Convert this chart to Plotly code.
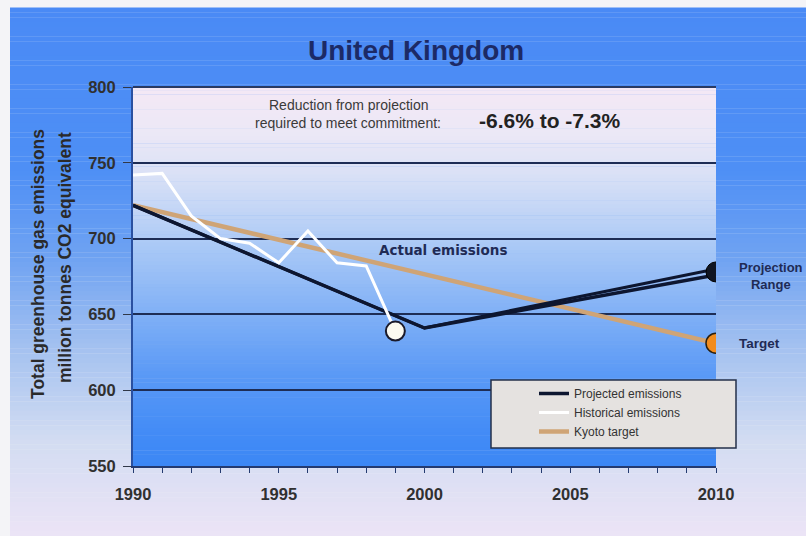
import plotly.graph_objects as go

# ---- data ----
hist_years = [1990, 1991, 1992, 1993, 1994, 1995, 1996, 1997, 1998, 1999]
hist_values = [742, 743, 715, 700, 697, 684, 705, 684, 682, 639]

proj_years = [1990, 2000, 2010]
proj_low = [722, 641, 676]
proj_high = [722, 641, 680]

kyoto_years = [1990, 2010]
kyoto_values = [722, 631]

x_ticks = [1990, 1995, 2000, 2005, 2010]
y_ticks = [550, 600, 650, 700, 750, 800]

# ---- geometry helpers (plot area in px) ----
W, H = 806, 536
L, R, T, B = 133, 716, 87, 466


def px_x(px):
    return (px - L) / (R - L)


def px_y(py):
    return (B - py) / (B - T)


def lerp_color(stops, v):
    stops = sorted(stops, key=lambda s: s[0])
    if v <= stops[0][0]:
        c = stops[0][1]
    elif v >= stops[-1][0]:
        c = stops[-1][1]
    else:
        for (a, ca), (b, cb) in zip(stops[:-1], stops[1:]):
            if a <= v <= b:
                t = (v - a) / (b - a)
                c = tuple(ca[i] + (cb[i] - ca[i]) * t for i in range(3))
                break
    return "rgb(%d,%d,%d)" % tuple(int(round(x)) for x in c)


shapes = []

# slide background gradient (by pixel y)
slide_stops = [
    (8, (74, 138, 245)), (170, (78, 143, 245)), (260, (112, 163, 242)),
    (350, (165, 194, 240)), (440, (210, 220, 242)), (536, (236, 228, 246)),
]
n = 110
top_px, bot_px = 8, 536
for i in range(n):
    y0 = top_px + (bot_px - top_px) * i / n
    y1 = top_px + (bot_px - top_px) * (i + 1) / n
    shapes.append(dict(type="rect", xref="paper", yref="paper", layer="below",
                       x0=px_x(10), x1=px_x(806), y0=px_y(y1), y1=px_y(y0) + 0.001,
                       fillcolor=lerp_color(slide_stops, (y0 + y1) / 2), line_width=0))

# plot-area gradient (by value)
plot_stops = [
    (800, (244, 232, 245)), (770, (236, 232, 246)), (745, (220, 226, 246)),
    (720, (196, 214, 246)), (690, (165, 198, 246)), (650, (128, 176, 246)),
    (610, (90, 153, 246)), (570, (66, 139, 246)), (550, (60, 135, 245)),
]
m = 100
for i in range(m):
    v0 = 550 + 250 * i / m
    v1 = 550 + 250 * (i + 1) / m
    shapes.append(dict(type="rect", xref="x domain", yref="y", layer="below",
                       x0=0, x1=1, y0=v0, y1=v1 + 0.3,
                       fillcolor=lerp_color(plot_stops, (v0 + v1) / 2), line_width=0))

# top border of plot area
shapes.append(dict(type="line", xref="x domain", yref="y domain", layer="below",
                   x0=0, x1=1, y0=1, y1=1, line=dict(color="#2a3a62", width=2)))

# legend box
shapes.append(dict(type="rect", xref="paper", yref="paper", layer="above",
                   x0=px_x(491), x1=px_x(736), y0=px_y(448), y1=px_y(380),
                   fillcolor="#e5e2e0", line=dict(color="#25304a", width=1.5)))

fig = go.Figure()

navy = "#0d1630"
tan = "#cfa476"
orange = "#f28c1e"

fig.add_trace(go.Scatter(x=kyoto_years, y=kyoto_values, mode="lines",
                         line=dict(color=tan, width=4.5), name="Kyoto target",
                         legendrank=3))
fig.add_trace(go.Scatter(x=proj_years, y=proj_high, mode="lines",
                         line=dict(color=navy, width=3), showlegend=False))
fig.add_trace(go.Scatter(x=proj_years, y=proj_low, mode="lines",
                         line=dict(color=navy, width=3.5), name="Projected emissions",
                         legendrank=1))
fig.add_trace(go.Scatter(x=hist_years, y=hist_values, mode="lines",
                         line=dict(color="white", width=3), name="Historical emissions",
                         legendrank=2))

# end markers
fig.add_trace(go.Scatter(x=[hist_years[-1]], y=[hist_values[-1]], mode="markers",
                         marker=dict(size=19, color="#fbfaf0", line=dict(color="#1a1a2a", width=2)),
                         showlegend=False))
fig.add_trace(go.Scatter(x=[proj_years[-1]], y=[(proj_low[-1] + proj_high[-1]) / 2], mode="markers",
                         marker=dict(size=20, color="#101522", line=dict(color="#000", width=1)),
                         showlegend=False))
fig.add_trace(go.Scatter(x=[kyoto_years[-1]], y=[kyoto_values[-1]], mode="markers",
                         marker=dict(size=20, color=orange, line=dict(color="#2a2010", width=1.5)),
                         showlegend=False))

tick_font = dict(family="Liberation Sans Narrow, Liberation Sans, Arial", size=16.5,
                 color="#303030", weight="bold")
label_font = dict(family="Liberation Sans, Arial", color="#1f2b55", weight="bold")
ytitle_font = dict(family="Liberation Sans, Arial", size=17.5, color="#2a2a2a", weight="bold")

annotations = [
    dict(text="United Kingdom", xref="paper", yref="paper", x=px_x(416), y=px_y(50),
         showarrow=False, xanchor="center", yanchor="middle",
         font=dict(family="Liberation Sans Narrow, Liberation Sans, Arial", size=28,
                   color="#1c2a66", weight="bold")),
    dict(text="Total greenhouse gas emissions",
         xref="paper", yref="paper", x=px_x(38), y=px_y(264), textangle=-90,
         showarrow=False, xanchor="center", yanchor="middle", font=ytitle_font),
    dict(text="million tonnes CO2 equivalent",
         xref="paper", yref="paper", x=px_x(65), y=px_y(258), textangle=-90,
         showarrow=False, xanchor="center", yanchor="middle", font=ytitle_font),
    dict(text="Reduction from projection", xref="paper", yref="paper",
         x=px_x(349), y=px_y(105), showarrow=False, xanchor="center", yanchor="middle",
         font=dict(family="Liberation Sans, Arial", size=14, color="#3a3a3a")),
    dict(text="required to meet commitment:", xref="paper", yref="paper",
         x=px_x(348), y=px_y(123), showarrow=False, xanchor="center", yanchor="middle",
         font=dict(family="Liberation Sans, Arial", size=14, color="#3a3a3a")),
    dict(text="-6.6% to -7.3%", xref="paper", yref="paper",
         x=px_x(550), y=px_y(120), showarrow=False, xanchor="center", yanchor="middle",
         font=dict(family="Liberation Sans, Arial", size=21, color="#222222", weight="bold")),
    dict(text="Actual emissions", xref="paper", yref="paper",
         x=px_x(443), y=px_y(250), showarrow=False, xanchor="center", yanchor="middle",
         font=dict(family="DejaVu Sans, Liberation Sans", size=13.5, color="#1f2b55",
                   weight="bold")),
    dict(text="Projection<br>Range", xref="paper", yref="paper", align="center",
         x=px_x(771), y=px_y(276), showarrow=False, xanchor="center", yanchor="middle",
         font=dict(size=13, **label_font)),
    dict(text="Target", xref="paper", yref="paper",
         x=px_x(737), y=px_y(343), showarrow=False, xanchor="left", yanchor="middle",
         font=dict(size=13.5, **label_font)),
]

fig.update_layout(
    width=W, height=H,
    margin=dict(l=L, r=W - R, t=T, b=H - B, pad=0),
    paper_bgcolor="#f4f4f7",
    plot_bgcolor="rgba(0,0,0,0)",
    shapes=shapes,
    annotations=annotations,
    showlegend=True,
    legend=dict(x=px_x(534), y=px_y(379), xanchor="left", yanchor="top",
                bgcolor="rgba(0,0,0,0)", borderwidth=0, tracegroupgap=0,
                font=dict(family="Liberation Sans, Arial", size=12, color="#333333")),
    xaxis=dict(range=[1990, 2010], tickvals=x_ticks, ticktext=[str(v) for v in x_ticks],
               showgrid=False, zeroline=False, showline=True, linecolor="#243a70",
               linewidth=2, ticks="outside", ticklen=5, tickcolor="#243a70",
               ticklabelstandoff=7, tickfont=tick_font,
               minor=dict(dtick=1, tick0=1990, ticks="outside", ticklen=5,
                          tickcolor="#243a70", showgrid=False)),
    yaxis=dict(range=[550, 800], tickvals=y_ticks, ticktext=[str(v) for v in y_ticks],
               showgrid=True, gridcolor="#1e2d55", gridwidth=1.5, zeroline=False,
               showline=True, linecolor="#2a50a0", linewidth=2, ticks="outside",
               ticklen=8, tickcolor="#303848", ticklabelstandoff=4, tickfont=tick_font),
)

fig.write_html("out.html", config={"displayModeBar": False},
               post_script="document.body.style.margin='0px';")
